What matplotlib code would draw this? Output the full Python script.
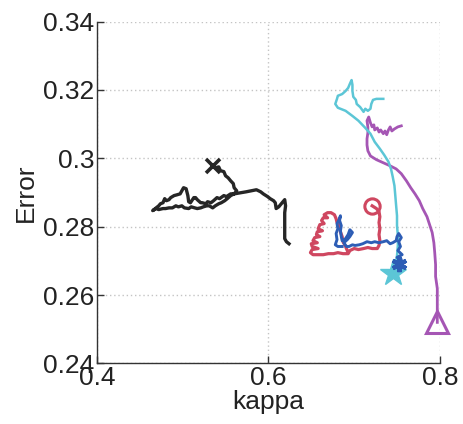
import matplotlib
matplotlib.use("Agg")
import matplotlib.pyplot as plt

plt.rcParams['font.family'] = ['Liberation Sans', 'DejaVu Sans']

# Trajectories of (kappa, error)
black_kappa = [0.535, 0.538, 0.542, 0.544, 0.548, 0.550, 0.553, 0.556, 0.559, 0.560, 0.563, 0.560,
               0.556, 0.551, 0.548, 0.543, 0.540, 0.536, 0.533, 0.529, 0.527, 0.523, 0.521, 0.517,
               0.515, 0.513, 0.509, 0.507, 0.506, 0.504, 0.501, 0.499, 0.497, 0.493, 0.490, 0.486,
               0.484, 0.481, 0.479, 0.477, 0.474, 0.472, 0.469, 0.465,
               0.469, 0.472, 0.477, 0.480, 0.484, 0.488, 0.492, 0.495, 0.499, 0.502, 0.507, 0.510,
               0.514, 0.517, 0.521, 0.524, 0.528, 0.531, 0.535, 0.538, 0.542, 0.545, 0.549, 0.552,
               0.556, 0.560,
               0.567, 0.574, 0.580, 0.586, 0.591, 0.594, 0.599, 0.602, 0.606, 0.608, 0.609, 0.612,
               0.615, 0.619, 0.620, 0.619, 0.619, 0.619, 0.619, 0.621, 0.624]
black_error = [0.2978, 0.2972, 0.2975, 0.2964, 0.2961, 0.2949, 0.2943, 0.2934, 0.2926, 0.2914, 0.2905, 0.2896,
               0.2896, 0.2888, 0.2891, 0.2882, 0.2885, 0.2876, 0.2870, 0.2873, 0.2867, 0.2870, 0.2870, 0.2879,
               0.2885, 0.2885, 0.2870, 0.2873, 0.2891, 0.2911, 0.2914, 0.2905, 0.2896, 0.2893, 0.2891, 0.2885,
               0.2879, 0.2876, 0.2882, 0.2870, 0.2867, 0.2861, 0.2855, 0.2847,
               0.2853, 0.2850, 0.2853, 0.2853, 0.2855, 0.2855, 0.2861, 0.2858, 0.2861, 0.2855, 0.2853, 0.2858,
               0.2855, 0.2853, 0.2855, 0.2858, 0.2861, 0.2861, 0.2855, 0.2861, 0.2867, 0.2870, 0.2876, 0.2882,
               0.2891, 0.2896,
               0.2899, 0.2902, 0.2905, 0.2908, 0.2902, 0.2896, 0.2888, 0.2882, 0.2876, 0.2870, 0.2853, 0.2858,
               0.2867, 0.2879, 0.2861, 0.2841, 0.2818, 0.2788, 0.2765, 0.2756, 0.2750]

cyan_kappa = [0.745, 0.748, 0.750, 0.751, 0.751, 0.750, 0.750, 0.749, 0.748, 0.747, 0.745, 0.743,
              0.740, 0.735, 0.730, 0.724, 0.719, 0.713, 0.705, 0.698, 0.690, 0.681, 0.678, 0.680,
              0.681, 0.686, 0.690, 0.693, 0.695, 0.697, 0.698, 0.698, 0.699, 0.702, 0.703, 0.707,
              0.711, 0.713, 0.716, 0.719, 0.720, 0.722, 0.726, 0.730, 0.734]
cyan_error = [0.2663, 0.2686, 0.2715, 0.2745, 0.2774, 0.2803, 0.2832, 0.2861, 0.2891, 0.2920, 0.2946, 0.2969,
              0.2990, 0.3010, 0.3028, 0.3048, 0.3072, 0.3089, 0.3110, 0.3124, 0.3139, 0.3148, 0.3159, 0.3174,
              0.3183, 0.3188, 0.3197, 0.3206, 0.3218, 0.3229, 0.3215, 0.3197, 0.3180, 0.3171, 0.3159, 0.3150,
              0.3136, 0.3145, 0.3139, 0.3145, 0.3159, 0.3171, 0.3174, 0.3174, 0.3174]

magenta_kappa = [0.797, 0.797, 0.797, 0.797, 0.795, 0.795, 0.794, 0.793, 0.791, 0.788, 0.785, 0.780,
                 0.776, 0.771, 0.766, 0.761, 0.755, 0.749, 0.742, 0.734, 0.726, 0.719, 0.716, 0.715,
                 0.715, 0.716, 0.716, 0.715, 0.717, 0.719, 0.721, 0.723, 0.724, 0.727, 0.729, 0.731,
                 0.734, 0.736, 0.738, 0.740, 0.742, 0.744, 0.747, 0.749, 0.751, 0.755]
magenta_error = [0.2520, 0.2549, 0.2584, 0.2619, 0.2654, 0.2689, 0.2724, 0.2753, 0.2783, 0.2806, 0.2829, 0.2853,
                 0.2876, 0.2896, 0.2914, 0.2934, 0.2955, 0.2969, 0.2978, 0.2987, 0.2996, 0.3007, 0.3022, 0.3039,
                 0.3057, 0.3075, 0.3092, 0.3110, 0.3121, 0.3104, 0.3092, 0.3098, 0.3083, 0.3089, 0.3077, 0.3083,
                 0.3072, 0.3080, 0.3069, 0.3083, 0.3092, 0.3080, 0.3086, 0.3089, 0.3092, 0.3095]

red_kappa = [0.721, 0.726, 0.729, 0.730, 0.729, 0.730, 0.729, 0.730, 0.729, 0.727, 0.721, 0.716,
             0.711, 0.705, 0.700, 0.695, 0.693, 0.687, 0.681, 0.676, 0.670, 0.664, 0.658, 0.652,
             0.649, 0.651, 0.658, 0.651, 0.650, 0.657, 0.652, 0.654, 0.660, 0.656, 0.657, 0.663,
             0.658, 0.660, 0.665, 0.662, 0.664, 0.669, 0.665, 0.669, 0.673, 0.677, 0.679, 0.680,
             0.683, 0.684, 0.686, 0.687, 0.690, 0.692]
red_error = [0.2861, 0.2853, 0.2844, 0.2829, 0.2812, 0.2794, 0.2777, 0.2759, 0.2745, 0.2736, 0.2736, 0.2739,
             0.2736, 0.2733, 0.2736, 0.2730, 0.2721, 0.2721, 0.2724, 0.2721, 0.2721, 0.2718, 0.2718, 0.2718,
             0.2724, 0.2733, 0.2736, 0.2742, 0.2750, 0.2753, 0.2759, 0.2768, 0.2771, 0.2777, 0.2785, 0.2788,
             0.2794, 0.2806, 0.2809, 0.2818, 0.2826, 0.2826, 0.2835, 0.2841, 0.2841, 0.2835, 0.2823, 0.2812,
             0.2800, 0.2785, 0.2771, 0.2756, 0.2742, 0.2730]

blue_kappa = [0.752, 0.755, 0.750, 0.756, 0.751, 0.754, 0.752, 0.755, 0.752, 0.750, 0.749, 0.745,
              0.742, 0.738, 0.734, 0.729, 0.724, 0.720, 0.715, 0.710, 0.706, 0.701, 0.698, 0.694,
              0.691, 0.688, 0.692, 0.695, 0.698, 0.695, 0.693, 0.690, 0.686, 0.685, 0.684, 0.685,
              0.683, 0.684, 0.683, 0.680, 0.681, 0.679, 0.680, 0.678, 0.681, 0.686]
blue_error = [0.2692, 0.2704, 0.2710, 0.2718, 0.2730, 0.2742, 0.2756, 0.2768, 0.2780, 0.2771, 0.2759, 0.2753,
              0.2750, 0.2759, 0.2756, 0.2753, 0.2756, 0.2753, 0.2756, 0.2750, 0.2747, 0.2745, 0.2747, 0.2742,
              0.2742, 0.2753, 0.2762, 0.2771, 0.2783, 0.2791, 0.2777, 0.2765, 0.2759, 0.2771, 0.2788, 0.2803,
              0.2818, 0.2832, 0.2823, 0.2809, 0.2794, 0.2780, 0.2762, 0.2747, 0.2742, 0.2742]

x_ticks = [0.4, 0.6, 0.8]
x_tick_labels = ['0.4', '0.6', '0.8']
y_ticks = [0.24, 0.26, 0.28, 0.30, 0.32, 0.34]
y_tick_labels = ['0.24', '0.26', '0.28', '0.3', '0.32', '0.34']

col_black = '#262626'
col_cyan = '#5cc6d6'
col_magenta = '#a556b4'
col_red = '#cf4760'
col_blue = '#2d5db5'

fig = plt.figure(figsize=(4.64, 4.24), dpi=100)
ax = fig.add_axes([0.209, 0.143, 0.739, 0.806])

ax.plot(magenta_kappa, magenta_error, color=col_magenta, lw=2.0)
ax.plot(cyan_kappa, cyan_error, color=col_cyan, lw=1.8)
ax.plot(red_kappa, red_error, color=col_red, lw=2.3)
ax.plot(blue_kappa, blue_error, color=col_blue, lw=2.1)
ax.plot(black_kappa, black_error, color=col_black, lw=2.4)

# end-point markers
ax.plot(black_kappa[0], black_error[0], marker='x', ms=10, mew=2.6, color=col_black, clip_on=False)
ax.plot(cyan_kappa[0], cyan_error[0], marker='*', ms=20, color=col_cyan, mec=col_cyan, clip_on=False)
ax.plot(blue_kappa[0], blue_error[0], marker=(6, 2, 0), ms=11, mew=3, color=col_blue, clip_on=False)
ax.plot(red_kappa[0], red_error[0], marker='o', ms=11, mew=2.2, mfc='none', color=col_red, clip_on=False)
ax.plot(magenta_kappa[0], magenta_error[0], marker='^', ms=16, mew=2.2, mfc='none',
        color=col_magenta, clip_on=False)

ax.set_xlim(0.4, 0.8)
ax.set_ylim(0.24, 0.34)
ax.set_xticks(x_ticks)
ax.set_xticklabels(x_tick_labels)
ax.set_yticks(y_ticks)
ax.set_yticklabels(y_tick_labels)

ax.grid(True, linestyle=(0, (1, 2)), color='#c4c4c4', linewidth=1.0)
ax.set_axisbelow(True)
for side in ('top', 'right'):
    ax.spines[side].set_visible(False)
for side in ('left', 'bottom'):
    ax.spines[side].set_color('#333333')
    ax.spines[side].set_linewidth(1.0)

ax.tick_params(direction='in', length=5, width=1, colors='#333333', labelsize=19,
               labelcolor='#222222', pad=2)

ax.set_xlabel('kappa', fontsize=19, color='#222222', labelpad=0)
ax.set_ylabel('Error', fontsize=19, color='#222222', labelpad=4)

fig.savefig('out.png', dpi=100)
